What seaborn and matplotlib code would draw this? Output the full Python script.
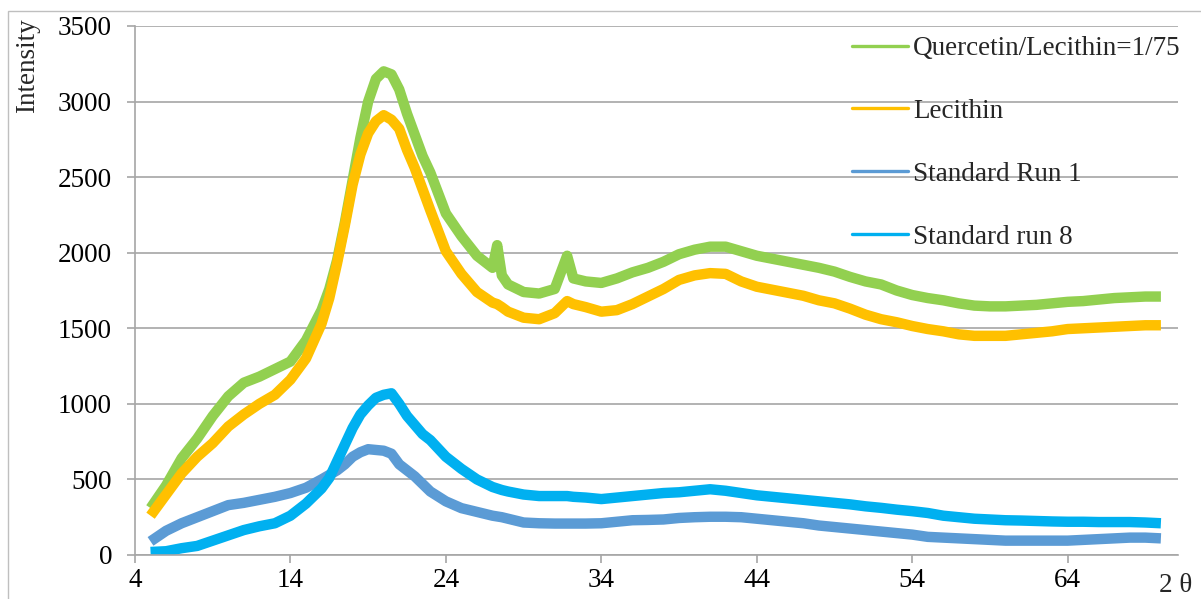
import numpy as np
import pandas as pd
import matplotlib
matplotlib.use("Agg")
import matplotlib.pyplot as plt
from matplotlib.patches import Rectangle
import seaborn as sns

# ---- data (2θ in degrees, intensity) ----
two_theta = [5, 6, 7, 8, 9, 10, 11, 12, 13, 14, 15, 16, 16.5, 17, 17.5, 18, 18.5,
             19, 19.5, 20, 20.5, 21, 21.5, 22, 22.5, 23, 24, 25, 26, 27, 27.3, 27.6,
             28, 29, 30, 31, 31.8, 32.2, 33, 34, 35, 36, 37, 38, 39, 40, 41, 42, 43,
             44, 45, 46, 47, 48, 49, 50, 51, 52, 53, 54, 55, 56, 57, 58, 59, 60, 61,
             62, 63, 64, 65, 66, 67, 68, 69, 70]

quercetin_lecithin = [310, 460, 640, 770, 920, 1050, 1140, 1180, 1230, 1280, 1420, 1620,
                      1760, 1950, 2200, 2480, 2760, 3000, 3150, 3200, 3180, 3080, 2920,
                      2780, 2640, 2530, 2260, 2110, 1980, 1900, 2050, 1850, 1790, 1740,
                      1730, 1760, 1980, 1830, 1810, 1800, 1830, 1870, 1900, 1940, 1990,
                      2020, 2040, 2040, 2010, 1980, 1960, 1940, 1920, 1900, 1875, 1840,
                      1810, 1790, 1750, 1720, 1700, 1685, 1665, 1650, 1645, 1645, 1650,
                      1655, 1665, 1675, 1680, 1690, 1700, 1705, 1710, 1710]

lecithin = [260, 400, 540, 650, 740, 850, 930, 1000, 1060, 1160, 1300, 1530, 1700, 1930,
            2180, 2450, 2650, 2790, 2870, 2910, 2880, 2820, 2680, 2560, 2420, 2280, 2010,
            1860, 1740, 1670, 1660, 1640, 1610, 1570, 1560, 1600, 1680, 1660, 1640, 1610,
            1620, 1660, 1710, 1760, 1820, 1850, 1865, 1860, 1810, 1775, 1755, 1735, 1715,
            1685, 1665, 1630, 1590, 1560, 1540, 1515, 1495, 1480, 1460, 1450, 1450, 1450,
            1460, 1470, 1480, 1495, 1500, 1505, 1510, 1515, 1520, 1520]

standard_run_1 = [90, 160, 210, 250, 290, 330, 345, 365, 385, 410, 445, 500, 530, 560,
                  600, 650, 680, 700, 695, 690, 670, 600, 560, 520, 470, 420, 355, 310,
                  285, 260, 255, 250, 240, 215, 210, 208, 208, 208, 208, 210, 220, 230,
                  232, 235, 245, 250, 253, 253, 250, 240, 230, 220, 210, 195, 185, 175,
                  165, 155, 145, 135, 120, 115, 110, 105, 100, 95, 95, 95, 95, 95, 100,
                  105, 110, 115, 115, 110]

standard_run_8 = [20, 25, 45, 60, 95, 130, 165, 190, 210, 260, 340, 440, 510, 620, 730,
                  840, 930, 990, 1040, 1060, 1070, 1000, 920, 860, 800, 760, 650, 570,
                  500, 450, 440, 430, 420, 400, 390, 390, 390, 385, 380, 370, 380, 390,
                  400, 410, 415, 425, 435, 425, 410, 395, 385, 375, 365, 355, 345, 335,
                  322, 312, 300, 290, 278, 260, 250, 240, 235, 230, 228, 225, 222, 220,
                  220, 218, 218, 218, 215, 210]

series_names = ["Quercetin/Lecithin=1/75", "Lecithin", "Standard Run 1", "Standard run 8"]
series_colors = ["#92D050", "#FFC000", "#5B9BD5", "#00B0F0"]
y_ticks = [0, 500, 1000, 1500, 2000, 2500, 3000, 3500]
x_ticks = [4, 14, 24, 34, 44, 54, 64]

# ---- build long-form table ----
frames = []
for name, vals in zip(series_names, [quercetin_lecithin, lecithin, standard_run_1, standard_run_8]):
    frames.append(pd.DataFrame({"two_theta": two_theta, "Intensity": vals, "series": name}))
df = pd.concat(frames, ignore_index=True)

sns.set_style("white")
plt.rcParams["font.family"] = ["Liberation Serif", "DejaVu Serif"]
FS = 19.5
GRID = "#A6A6A6"

W, H = 1201, 599
fig = plt.figure(figsize=(W / 100, H / 100), dpi=100)
ax = fig.add_axes([135 / W, 1 - 555 / H, (1178 - 135) / W, (555 - 26) / H])

sns.lineplot(data=df, x="two_theta", y="Intensity", hue="series", hue_order=series_names,
             palette=dict(zip(series_names, series_colors)), estimator=None, sort=False,
             linewidth=7.5, ax=ax, legend=True)
for ln in ax.get_lines():
    ln.set_solid_capstyle("butt")
    ln.set_solid_joinstyle("round")

ax.set_xlim(4, 71.1)
ax.set_ylim(0, 3500)
ax.set_xticks(x_ticks)
ax.set_yticks(y_ticks)
ax.set_xlabel("")
ax.set_ylabel("")
ax.yaxis.grid(True, color=GRID, linewidth=1.2)
ax.xaxis.grid(False)
ax.set_axisbelow(True)
for s in ["top", "right"]:
    ax.spines[s].set_visible(False)
for s in ["left", "bottom"]:
    ax.spines[s].set_color(GRID)
    ax.spines[s].set_linewidth(1.2)
ax.tick_params(axis="both", which="major", labelsize=FS, color=GRID, width=1.2,
               length=5.5, direction="out", labelcolor="black")
ax.tick_params(axis="y", pad=11)
ax.tick_params(axis="x", pad=4)
ax.tick_params(left=True, bottom=True)

fig.text(28 / W, 1 - 66 / H, "Intensity", rotation=90, ha="center", va="center", fontsize=FS)
fig.text(1176 / W, 1 - 586 / H, "2 θ", ha="center", va="center", fontsize=FS)

leg = ax.legend(loc="upper left", bbox_to_anchor=(852 / W, 1 - 36 / H),
                bbox_transform=fig.transFigure, frameon=False, fontsize=FS,
                handlelength=2.05, handletextpad=0.2, labelspacing=1.4,
                borderpad=0, borderaxespad=0)
for ln in leg.get_lines():
    ln.set_linewidth(2.4)
    ln.set_solid_capstyle("round")

fig.patches.append(Rectangle((8 / W, -0.05), 1.1, 1.05 - 11 / H, transform=fig.transFigure,
                             fill=False, edgecolor="#BFBFBF", linewidth=1.0))

fig.savefig("out.png", dpi=100)
